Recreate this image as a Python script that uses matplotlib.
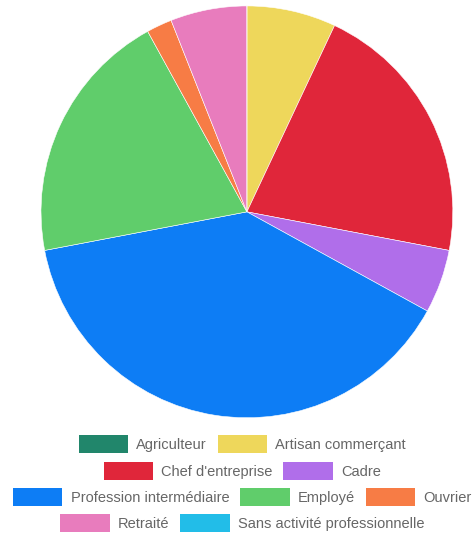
import matplotlib.pyplot as plt
from matplotlib.patches import Patch

categories = ["Agriculteur", "Artisan commerçant", "Chef d'entreprise", "Cadre",
              "Profession intermédiaire", "Employé", "Ouvrier", "Retraité",
              "Sans activité professionnelle"]
values = [0, 7, 21, 5, 39, 20, 2, 6, 0]
colors = ["#21866b", "#eed75b", "#e0263a", "#b06eea", "#0d7df5",
          "#60cd6b", "#f77c45", "#e87cbd", "#22bde8"]
legend_rows = [[0, 1], [2, 3], [4, 5, 6], [7, 8]]

plt.rcParams["font.family"] = ["Liberation Sans", "DejaVu Sans"]

fig = plt.figure(figsize=(4.75, 5.37), dpi=100)
ax = fig.add_axes([0.0863, 0.222, 0.867, 0.767])
ax.pie(values, colors=colors, startangle=90, counterclock=False, radius=1,
       wedgeprops=dict(edgecolor="white", linewidth=0.4))
ax.set_xlim(-1, 1)
ax.set_ylim(-1, 1)
ax.set_aspect("equal")
ax.axis("off")

row_y = [444, 471, 497, 523]
for row, y in zip(legend_rows, row_y):
    handles = [Patch(facecolor=colors[i], edgecolor="none") for i in row]
    labels = [categories[i] for i in row]
    leg = fig.legend(handles, labels, loc="center", bbox_to_anchor=(0.51, 1 - y / 537),
                     ncol=len(row), frameon=False, fontsize=10.5,
                     handlelength=3.4, handleheight=1.6, handletextpad=0.55,
                     columnspacing=0.75, borderpad=0, borderaxespad=0)
    for t in leg.get_texts():
        t.set_color("#666666")

fig.savefig("out.png", dpi=100)
